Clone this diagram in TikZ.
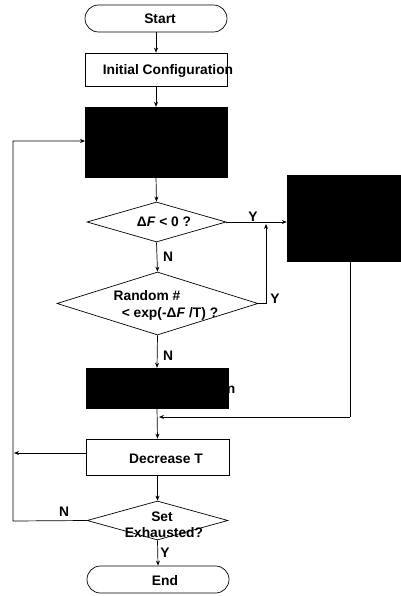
\documentclass[tikz,border=0pt]{standalone}
\usepackage{fontspec}
\setmainfont{Liberation Sans}
\usetikzlibrary{shapes.geometric,shapes.misc,arrows.meta}
\begin{document}
\begin{tikzpicture}[x=1pt,y=-1pt,
  every node/.style={font=\bfseries\fontsize{13.8}{15}\selectfont},
  box/.style={draw,line width=0.7pt,rectangle,inner sep=0pt},
  blackbox/.style={draw,fill=black,rectangle,inner sep=0pt},
  term/.style={draw,line width=0.7pt,rounded rectangle,inner sep=0pt},
  dia/.style={draw,line width=0.7pt,diamond,inner sep=0pt},
  txt/.style={inner sep=0pt},
  lbl/.style={inner sep=0pt},
  conn/.style={line width=0.7pt},
  arr/.style={line width=0.7pt,-{Stealth[length=5pt,width=4pt]}}
]
\useasboundingbox (0,0) rectangle (400,596);
% nodes
\node[term,minimum width=142pt,minimum height=27pt] (start) at (156,18.5) {};
\node[txt] (starttxt) at (160,19) {Start};
\node[box,minimum width=142pt,minimum height=33pt] (init) at (156,69.5) {};
\node[txt] (inittxt) at (168,71) {Initial Configuration};
\node[blackbox,minimum width=142pt,minimum height=70pt] (box1) at (156,142) {};
\node[dia,minimum width=139pt,minimum height=40pt] (d1) at (156.5,222) {};
\node[txt] (d1txt) at (164,222) {Δ\textit{F} < 0 ?};
\node[dia,minimum width=201pt,minimum height=63pt] (d2) at (157.5,303.5) {};
\node[txt] (d2txta) at (147,296) {Random \#};
\node[txt] (d2txtb) at (170,314) {< exp(-Δ\textit{F} /T) ?};
\node[blackbox,minimum width=113pt,minimum height=86pt] (box2) at (343.5,218) {};
\node[blackbox,minimum width=142pt,minimum height=40pt] (box3) at (157,388) {};
\node[txt] (box3txt) at (231,390) {n};
\node[box,minimum width=143pt,minimum height=36pt] (dec) at (157.5,457) {};
\node[txt] (dectxt) at (166,459) {Decrease T};
\node[dia,minimum width=141pt,minimum height=39pt] (d3) at (157.5,520.5) {};
\node[txt] (d3txta) at (162,517) {Set};
\node[txt] (d3txtb) at (164,533) {Exhausted?};
\node[term,minimum width=142pt,minimum height=27pt] (end) at (158,579.5) {};
\node[txt] (endtxt) at (165,581) {End};
% labels
\node[lbl] (lY1) at (253,217) {Y};
\node[lbl] (lN1) at (168,257) {N};
\node[lbl] (lY2) at (275,299) {Y};
\node[lbl] (lN2) at (168,356) {N};
\node[lbl] (lN3) at (64,512) {N};
\node[lbl] (lY3) at (165,553) {Y};
% coordinates
\coordinate (j1) at (266,224);
\coordinate (b2out) at (350,261);
\coordinate (j2) at (157,417);
\coordinate (loopx) at (13,521);
\coordinate (in1) at (85,141);
\coordinate (decout) at (14,453);
% connectors
\draw[arr] (start.south) -- (init.north);
\draw[arr] (init.south) -- (box1.north);
\draw[arr] (box1.south) -- (d1.north);
\draw[arr] (d1.south) -- (d2.north);
\draw[arr] (d2.south) -- (box3.north);
\draw[arr] (box3.south) -- (dec.north);
\draw[arr] (dec.south) -- (d3.north);
\draw[arr] (d3.south) -- (end.north);
\draw[arr] (d1.east) -- (d1.east -| box2.west);
\draw[arr] (d2.east) -- (d2.east -| j1) -- (j1);
\draw[conn] (b2out) -- (b2out |- j2);
\draw[arr] (b2out |- j2) -- ([xshift=2pt]j2);
\draw[arr] (d3.west) -- (loopx) -- (loopx |- in1) -- (in1);
\draw[arr] (dec.west |- decout) -- (decout);
\end{tikzpicture}
\end{document}
